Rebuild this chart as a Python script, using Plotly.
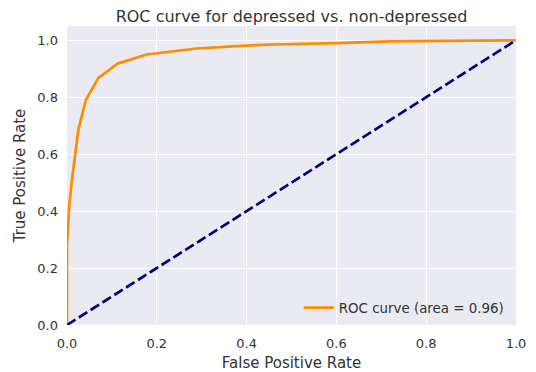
import plotly.graph_objects as go

fpr = [0.0, 0.0, 0.005, 0.011, 0.025, 0.042, 0.070, 0.113, 0.177, 0.289, 0.408, 0.46, 0.6, 0.72, 0.85, 1.0]
tpr = [0.0, 0.28, 0.42, 0.51, 0.684, 0.79, 0.868, 0.918, 0.95, 0.971, 0.982, 0.985, 0.99, 0.996, 0.998, 1.0]
diag = [0.0, 1.0]
roc_auc = 0.96
ticks = [0, 0.2, 0.4, 0.6, 0.8, 1.0]
tick_labels = ["0.0", "0.2", "0.4", "0.6", "0.8", "1.0"]

fig = go.Figure()
fig.add_trace(go.Scatter(x=fpr, y=tpr, mode="lines",
                         line=dict(color="#FF8C00", width=2.7),
                         name=f"ROC curve (area = {roc_auc:.2f})"))
fig.add_trace(go.Scatter(x=diag, y=diag, mode="lines",
                         line=dict(color="#000080", width=2.7, dash="10px,4px"),
                         showlegend=False))

font = "DejaVu Sans"
W, H = 528, 364
fig.update_layout(
    width=W, height=H,
    margin=dict(l=59, r=20, t=18, b=47, autoexpand=False),
    paper_bgcolor="white", plot_bgcolor="#EAEAF2",
    font=dict(family=font, color="#333333", size=13),
    title=dict(text="ROC curve for depressed vs. non-depressed", x=0.5, xanchor="center",
               xref="paper", y=1, yref="container", yanchor="top", pad=dict(t=3),
               font=dict(size=16, color="#333333")),
    xaxis=dict(range=[0, 1], tickvals=ticks, ticktext=tick_labels, automargin=False,
               gridcolor="white", gridwidth=1, zeroline=False, showline=False,
               title=dict(text="False Positive Rate", font=dict(size=15), standoff=7),
               ticks="", ticklabelstandoff=9, tickfont=dict(size=13)),
    yaxis=dict(range=[0, 1.05], tickvals=ticks, ticktext=tick_labels, automargin=False,
               gridcolor="white", gridwidth=1, zeroline=False, showline=False,
               title=dict(text="True Positive Rate", font=dict(size=15), standoff=8),
               ticks="", ticklabelstandoff=8, tickfont=dict(size=13)),
    legend=dict(x=0.986, y=0.005, xanchor="right", yanchor="bottom",
                bgcolor="rgba(0,0,0,0)", font=dict(size=13.4)),
)
fig.write_html("out.html")
